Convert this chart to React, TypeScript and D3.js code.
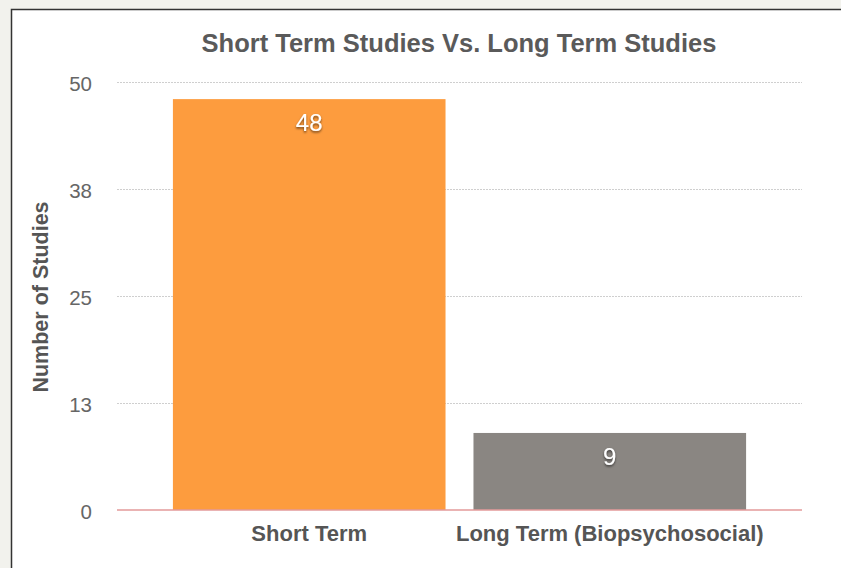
import { useEffect, useRef } from "react";
import * as d3 from "d3";

const categories = ["Short Term", "Long Term (Biopsychosocial)"];
const studyCounts = [48, 9];
const barColors = ["#fd9c3e", "#8a8682"];
const tickValues = [0, 12.5, 25, 37.5, 50];
const tickLabels = ["0", "13", "25", "38", "50"];

const W = 841;
const H = 568;

export default function App() {
  const svgRef = useRef<SVGSVGElement>(null);

  useEffect(() => {
    document.body.style.margin = "0";
    const svg = d3.select(svgRef.current);
    svg.selectAll("*").remove();

    // page frame
    svg.append("rect").attr("width", W).attr("height", H).attr("fill", "#f2f2ed");
    svg
      .append("rect")
      .attr("x", 11.5)
      .attr("y", 9.5)
      .attr("width", W)
      .attr("height", H)
      .attr("fill", "#fff")
      .attr("stroke", "#333")
      .attr("stroke-width", 1.5);

    const left = 117;
    const right = 802;
    const y = d3.scaleLinear().domain([0, 50]).range([510, 82]);
    const x = d3
      .scaleBand<string>()
      .domain(categories)
      .range([left, right])
      .paddingInner(0.093)
      .paddingOuter(0.186);

    const font = "'Liberation Sans', Arial, sans-serif";

    // title
    svg
      .append("text")
      .attr("x", 459)
      .attr("y", 52)
      .attr("text-anchor", "middle")
      .attr("font-family", font)
      .attr("font-size", 25.5)
      .attr("font-weight", "bold")
      .attr("fill", "#5a5a5a")
      .text("Short Term Studies Vs. Long Term Studies");

    // gridlines + ticks
    svg
      .append("g")
      .selectAll("line")
      .data(tickValues.slice(1))
      .join("line")
      .attr("x1", left)
      .attr("x2", right)
      .attr("y1", (d) => Math.round(y(d)) + 0.5)
      .attr("y2", (d) => Math.round(y(d)) + 0.5)
      .attr("stroke", "#cfcfcf")
      .attr("stroke-dasharray", "2,1");

    svg
      .append("g")
      .selectAll("text")
      .data(tickValues)
      .join("text")
      .attr("x", 92)
      .attr("y", (d) => y(d) + 9)
      .attr("text-anchor", "end")
      .attr("font-family", font)
      .attr("font-size", 20.5)
      .attr("fill", "#666")
      .text((_, i) => tickLabels[i]);

    // y label
    svg
      .append("text")
      .attr("transform", `translate(48,${(82 + 510) / 2 + 1}) rotate(-90)`)
      .attr("text-anchor", "middle")
      .attr("font-family", font)
      .attr("font-size", 21.5)
      .attr("font-weight", "bold")
      .attr("fill", "#555")
      .text("Number of Studies");

    // bars
    svg
      .append("g")
      .selectAll("rect")
      .data(studyCounts)
      .join("rect")
      .attr("x", (_, i) => x(categories[i])!)
      .attr("y", (d) => y(d))
      .attr("width", x.bandwidth())
      .attr("height", (d) => y(0) - y(d))
      .attr("fill", (_, i) => barColors[i]);

    // baseline
    svg
      .append("line")
      .attr("x1", left)
      .attr("x2", right)
      .attr("y1", y(0))
      .attr("y2", y(0))
      .attr("stroke", "#e39a9a")
      .attr("stroke-width", 1.5);

    // value labels
    const defs = svg.append("defs");
    const f = defs
      .append("filter")
      .attr("id", "shadow")
      .attr("x", "-20%")
      .attr("y", "-20%")
      .attr("width", "140%")
      .attr("height", "160%");
    f.append("feDropShadow")
      .attr("dx", 0)
      .attr("dy", 1.5)
      .attr("stdDeviation", 0.8)
      .attr("flood-color", "#000")
      .attr("flood-opacity", 0.6);

    svg
      .append("g")
      .selectAll("text")
      .data(studyCounts)
      .join("text")
      .attr("x", (_, i) => x(categories[i])! + x.bandwidth() / 2)
      .attr("y", (d) => y(d) + 32)
      .attr("text-anchor", "middle")
      .attr("font-family", font)
      .attr("font-size", 24)
      .attr("fill", "#fff")
      .attr("filter", "url(#shadow)")
      .text((d) => d);

    // category labels
    svg
      .append("g")
      .selectAll("text")
      .data(categories)
      .join("text")
      .attr("x", (d) => x(d)! + x.bandwidth() / 2)
      .attr("y", 541)
      .attr("text-anchor", "middle")
      .attr("font-family", font)
      .attr("font-size", 22)
      .attr("font-weight", "bold")
      .attr("fill", "#555")
      .text((d) => d);
  }, []);

  return <svg ref={svgRef} width={W} height={H} style={{ display: "block" }} />;
}
